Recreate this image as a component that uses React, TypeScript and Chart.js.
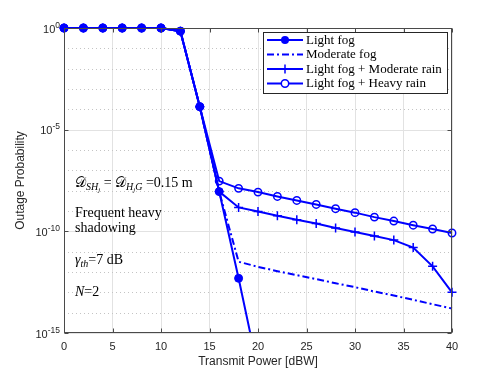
import React, { useEffect, useRef } from "react";
import { Chart, registerables } from "chart.js";
Chart.register(...registerables);

const xFog = [0, 2, 4, 6, 8, 10, 12, 14, 16, 18, 20];
const lightFog = [1, 1, 1, 1, 1, 1, 0.7, 1.35e-4, 9e-9, 4.9e-13, 1.6e-17];
const xAll = [0, 2, 4, 6, 8, 10, 12, 14, 16, 18, 20, 22, 24, 26, 28, 30, 32, 34, 36, 38, 40];
const moderateFog = [1, 1, 1, 1, 1, 1, 0.7, 1.35e-4, 9e-9, 3.2e-12, 1.8e-12, 1.1e-12, 7e-13, 4.5e-13, 2.8e-13, 1.8e-13, 1.1e-13, 7e-14, 4.3e-14, 2.6e-14, 1.6e-14];
const fogModerateRain = [1, 1, 1, 1, 1, 1, 0.7, 1.35e-4, 9e-9, 1.5e-9, 9.5e-10, 5.9e-10, 3.7e-10, 2.4e-10, 1.45e-10, 9.3e-11, 5.9e-11, 3.7e-11, 1.6e-11, 1.9e-12, 1e-13];
const fogHeavyRain = [1, 1, 1, 1, 1, 1, 0.7, 1.35e-4, 2.95e-8, 1.3e-8, 8.5e-9, 5.2e-9, 3.3e-9, 2.1e-9, 1.3e-9, 8.3e-10, 5e-10, 3.2e-10, 2e-10, 1.3e-10, 8.3e-11];
const seriesLabels = ["Light fog", "Moderate fog", "Light fog + Moderate rain", "Light fog + Heavy rain"];
const xTicks = [0, 5, 10, 15, 20, 25, 30, 35, 40];
const yExponents = [0, -5, -10, -15];

const BLUE = "#0000ff";
const SANS = '"Liberation Sans", Arial, sans-serif';
const SERIF = '"Liberation Serif", "DejaVu Serif", serif';

type Run = { t: string; f: string; dy?: number };
function drawRuns(ctx: CanvasRenderingContext2D, x: number, y: number, runs: Run[]) {
  for (const r of runs) {
    ctx.font = r.f;
    ctx.fillText(r.t, x, y + (r.dy || 0));
    x += ctx.measureText(r.t).width;
  }
}

const decorPlugin = {
  id: "decor",
  beforeDatasetsDraw(chart: any) {
    const { ctx, chartArea: a, scales } = chart;
    const y = scales.y;
    ctx.save();
    for (let e = 0; e >= -15; e--) {
      const py = Math.round(y.getPixelForValue(Math.pow(10, e))) + 0.5;
      ctx.beginPath();
      if (e % 5 === 0) {
        ctx.strokeStyle = "#e2e2e2";
        ctx.setLineDash([]);
      } else {
        ctx.strokeStyle = "#c4c4c4";
        ctx.setLineDash([1, 3]);
      }
      ctx.lineWidth = 1;
      ctx.moveTo(a.left, py);
      ctx.lineTo(a.right, py);
      ctx.stroke();
    }
    ctx.restore();
  },
  afterDatasetsDraw(chart: any) {
    const { ctx, chartArea: a, scales } = chart;
    const x = scales.x;
    const y = scales.y;
    ctx.save();
    ctx.strokeStyle = "#4a4a4a";
    ctx.lineWidth = 1;
    ctx.setLineDash([]);
    const L = Math.round(a.left) + 0.5, R = Math.round(a.right) - 0.5, T = Math.round(a.top) + 0.5, B = Math.round(a.bottom) - 0.5;
    ctx.strokeRect(L, T, R - L, B - T);
    ctx.beginPath();
    for (const v of xTicks) {
      const px = Math.round(x.getPixelForValue(v)) + 0.5;
      ctx.moveTo(px, B); ctx.lineTo(px, B - 4);
      ctx.moveTo(px, T); ctx.lineTo(px, T + 4);
    }
    for (const e of yExponents) {
      const py = Math.round(y.getPixelForValue(Math.pow(10, e))) + 0.5;
      ctx.moveTo(L, py); ctx.lineTo(L + 4, py);
      ctx.moveTo(R, py); ctx.lineTo(R - 4, py);
    }
    ctx.stroke();

    // y tick labels
    ctx.fillStyle = "#262626";
    ctx.textBaseline = "alphabetic";
    ctx.textAlign = "left";
    for (const e of yExponents) {
      const py = y.getPixelForValue(Math.pow(10, e));
      ctx.font = `8.5px ${SANS}`;
      const sup = String(e);
      const wSup = ctx.measureText(sup).width;
      ctx.font = `11px ${SANS}`;
      const wBase = ctx.measureText("10").width;
      const right = a.left - 4;
      const x0 = right - wSup - wBase;
      ctx.fillText("10", x0, py + 4.5);
      ctx.font = `8.5px ${SANS}`;
      ctx.fillText(sup, x0 + wBase, py - 0.5);
    }

    // axis titles
    ctx.font = `12px ${SANS}`;
    ctx.textAlign = "center";
    ctx.textBaseline = "middle";
    ctx.fillText("Transmit Power [dBW]", (a.left + a.right) / 2, 362);
    ctx.save();
    ctx.translate(21, (a.top + a.bottom) / 2);
    ctx.rotate(-Math.PI / 2);
    ctx.fillText("Outage Probability", 0, 0);
    ctx.restore();

    // annotations
    ctx.fillStyle = "#000";
    ctx.textAlign = "left";
    ctx.textBaseline = "alphabetic";
    const n = `14px ${SERIF}`;
    const it = `italic 14px ${SERIF}`;
    const sub = `italic 10px ${SERIF}`;
    const sub2 = `italic 7px ${SERIF}`;
    drawRuns(ctx, 75, 187, [
      { t: "𝒟", f: n },
      { t: "SH", f: sub, dy: 3 },
      { t: "j", f: sub2, dy: 5 },
      { t: " = ", f: n },
      { t: "𝒟", f: n },
      { t: "H", f: sub, dy: 3 },
      { t: "j", f: sub2, dy: 5 },
      { t: "G", f: sub, dy: 3 },
      { t: " =0.15 m", f: n },
    ]);
    drawRuns(ctx, 75, 217, [{ t: "Frequent heavy", f: n }]);
    drawRuns(ctx, 75, 232, [{ t: "shadowing", f: n }]);
    drawRuns(ctx, 75, 264, [
      { t: "γ", f: it },
      { t: "th", f: sub, dy: 3 },
      { t: "=7 dB", f: n },
    ]);
    drawRuns(ctx, 75, 296, [
      { t: "N", f: it },
      { t: "=2", f: n },
    ]);

    // legend
    const lx = 263.5, ly = 32.5, lw = 184, lh = 61;
    ctx.fillStyle = "#fff";
    ctx.fillRect(lx, ly, lw, lh);
    ctx.strokeStyle = "#262626";
    ctx.lineWidth = 1;
    ctx.strokeRect(lx, ly, lw, lh);
    const rows = [40, 54.5, 69, 83.5];
    chart.data.datasets.forEach((ds: any, i: number) => {
      const cy = rows[i];
      ctx.strokeStyle = BLUE;
      ctx.lineWidth = 2;
      ctx.setLineDash(ds.borderDash || []);
      ctx.beginPath();
      ctx.moveTo(267, cy);
      ctx.lineTo(303, cy);
      ctx.stroke();
      ctx.setLineDash([]);
      const mx = 285;
      if (ds.pointStyle === "circle" && ds.pointRadius > 0) {
        ctx.beginPath();
        ctx.arc(mx, cy, ds.pointRadius, 0, Math.PI * 2);
        if (ds.pointBackgroundColor !== "rgba(0,0,0,0)") {
          ctx.fillStyle = BLUE;
          ctx.fill();
        } else {
          ctx.fillStyle = "#fff";
          ctx.fill();
          ctx.lineWidth = ds.pointBorderWidth;
          ctx.stroke();
        }
      } else if (ds.pointStyle === "cross") {
        ctx.lineWidth = ds.pointBorderWidth;
        ctx.beginPath();
        ctx.moveTo(mx - ds.pointRadius, cy);
        ctx.lineTo(mx + ds.pointRadius, cy);
        ctx.moveTo(mx, cy - ds.pointRadius);
        ctx.lineTo(mx, cy + ds.pointRadius);
        ctx.stroke();
      }
      ctx.fillStyle = "#000";
      ctx.font = `13px ${SERIF}`;
      ctx.textBaseline = "middle";
      ctx.fillText(ds.label, 306, cy + 0.5);
    });
    ctx.restore();
  },
};

export default function App() {
  const ref = useRef<HTMLCanvasElement>(null);
  useEffect(() => {
    if (!ref.current) return;
    const pts = (xs: number[], ys: number[]) => xs.map((x, i) => ({ x, y: ys[i] }));
    const clip = { left: 6, top: 6, right: 6, bottom: 0 };
    const chart = new Chart(ref.current, {
      type: "line",
      data: {
        datasets: [
          {
            label: seriesLabels[0],
            data: pts(xFog, lightFog),
            borderColor: BLUE,
            borderWidth: 2,
            pointStyle: "circle",
            pointRadius: 4,
            pointBackgroundColor: BLUE,
            pointBorderColor: BLUE,
            pointBorderWidth: 1,
            clip,
          },
          {
            label: seriesLabels[1],
            data: pts(xAll, moderateFog),
            borderColor: BLUE,
            borderWidth: 2,
            borderDash: [7, 3, 2, 3],
            pointStyle: "circle",
            pointRadius: 0,
            clip,
          },
          {
            label: seriesLabels[2],
            data: pts(xAll, fogModerateRain),
            borderColor: BLUE,
            borderWidth: 2,
            pointStyle: "cross",
            pointRadius: 4.5,
            pointBorderColor: BLUE,
            pointBorderWidth: 1.5,
            clip,
          },
          {
            label: seriesLabels[3],
            data: pts(xAll, fogHeavyRain),
            borderColor: BLUE,
            borderWidth: 2,
            pointStyle: "circle",
            pointRadius: 3.7,
            pointBackgroundColor: "rgba(0,0,0,0)",
            pointBorderColor: BLUE,
            pointBorderWidth: 1.5,
            clip,
          },
        ] as any,
      },
      options: {
        responsive: false,
        animation: false,
        events: [],
        layout: { padding: { left: 0, right: 46, top: 28, bottom: 0 } },
        plugins: { legend: { display: false }, tooltip: { enabled: false } },
        scales: {
          x: {
            type: "linear",
            min: 0,
            max: 40,
            afterFit: (s: any) => { s.height = 41; },
            afterBuildTicks: (s: any) => { s.ticks = xTicks.map((v) => ({ value: v })); },
            ticks: { color: "#262626", font: { family: SANS, size: 11 }, padding: 7, maxRotation: 0 },
            grid: { color: "#e2e2e2", drawTicks: false },
            border: { display: false },
          },
          y: {
            type: "logarithmic",
            min: 1e-15,
            max: 1,
            afterFit: (s: any) => { s.width = 64; },
            ticks: { display: false },
            grid: { display: false },
            border: { display: false },
          },
        },
      },
      plugins: [decorPlugin],
    });
    return () => chart.destroy();
  }, []);
  return (
    <div style={{ position: "fixed", left: 0, top: 0, width: 498, height: 374, background: "#fff" }}>
      <canvas ref={ref} width={498} height={374} />
    </div>
  );
}
